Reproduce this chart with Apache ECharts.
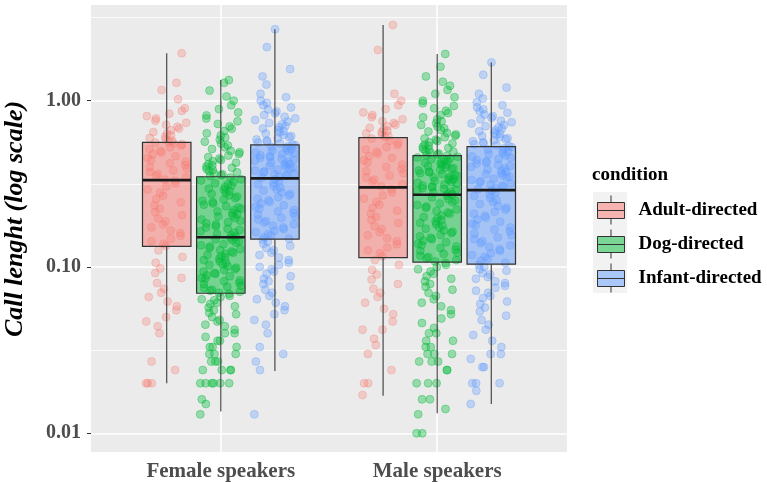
<!DOCTYPE html>
<html>
<head>
<meta charset="utf-8">
<script src="https://cdn.jsdelivr.net/npm/echarts@6/dist/echarts.min.js"></script>
<style>
html,body{margin:0;padding:0;background:#fff;}
#chart{width:767px;height:482px;}
</style>
</head>
<body>
<div id="chart"></div>
<script>
// ---------- data ----------
const categories = ['Female speakers', 'Male speakers'];
const conditions = ['Adult-directed', 'Dog-directed', 'Infant-directed'];
const yTickValues = [0.01, 0.1, 1];
const yTickLabels = ['0.01', '0.10', '1.00'];
const yMinorValues = [0.0316, 0.316, 3.16];

// box statistics per category: [lower whisker, Q1, median, Q3, upper whisker] (seconds)
const adultBoxes  = [[0.020, 0.133, 0.333, 0.562, 1.93], [0.0168, 0.114, 0.301, 0.600, 2.85]];
const dogBoxes    = [[0.0135, 0.0695, 0.151, 0.349, 1.33], [0.0132, 0.107, 0.272, 0.467, 1.91]];
const infantBoxes = [[0.0237, 0.147, 0.341, 0.542, 2.69], [0.0150, 0.104, 0.290, 0.529, 1.70]];

// individual calls (milliseconds), estimated from the jittered points
const femaleAdultMs = [20,20,20,24,27,40,44,47,50,55,58,62,66,70,74,80,86,92,98,106,115,126,
134,138,143,148,154,160,166,173,180,188,196,205,214,224,234,245,256,268,280,292,305,318,330,
336,345,354,363,372,381,390,400,410,420,430,440,452,464,476,488,500,512,524,536,548,555,560,
566,575,585,596,608,620,634,648,664,680,698,716,736,758,782,808,836,868,900,1020,1160,1280,1930];
const femaleDogMs = [13,15,16,20,20,20,20,20,20,24,24,24,24,27,27,27,30,30,30,33,33,33,36,36,38,40,40,42,44,45,47,48,50,52,53,55,57,58,60,61,63,64,66,67,69,
70,71,72,73,75,76,77,79,80,82,83,85,86,88,89,91,92,94,96,97,99,101,103,104,106,108,110,112,114,116,118,120,122,124,126,128,130,133,135,137,140,142,145,147,150,
152,155,158,161,164,167,170,173,176,180,183,186,190,193,197,201,204,208,212,216,220,224,228,232,237,241,246,250,255,260,265,270,275,280,285,291,296,302,307,313,319,325,331,337,345,
352,356,361,366,371,377,383,389,395,402,409,416,424,432,440,449,458,468,478,489,500,512,525,538,552,567,583,600,618,637,657,678,700,725,752,782,815,850,890,940,1000,1060,1150,1280,1330];
const femaleInfantMs = [13,24,27,30,33,40,45,48,52,55,58,61,64,67,70,73,76,79,82,85,88,91,94,97,100,103,106,110,114,118,122,126,130,134,138,142,146,
148,151,155,158,162,165,169,173,177,181,185,189,193,197,202,206,211,216,220,225,230,235,241,246,252,257,263,269,275,281,288,294,301,307,314,321,329,336,
344,348,353,357,362,366,371,375,380,385,390,395,400,405,410,415,420,425,431,436,442,447,453,458,464,470,476,482,488,494,500,507,513,520,526,533,540,
545,552,560,568,576,585,594,603,613,623,634,645,656,668,680,693,706,720,735,750,766,783,800,820,840,862,885,910,940,970,1000,1050,1100,1250,1400,1550,2100,2690];
const maleAdultMs = [17,20,20,24,30,34,37,42,42,47,52,56,61,66,70,74,79,84,90,96,103,110,
116,121,126,131,137,143,149,155,162,169,176,184,192,200,209,218,227,237,247,258,269,281,293,
306,315,325,335,345,355,366,377,389,400,413,425,438,452,465,480,494,509,525,541,557,574,592,
606,615,625,636,648,660,673,687,702,718,735,753,773,795,820,850,890,940,1000,1100,2020,2850];
const maleDogMs = [10,10,13,14,16,16,20,20,20,24,24,27,27,27,30,30,30,33,33,36,36,40,40,43,46,49,52,55,58,61,64,67,70,73,76,79,82,85,88,91,94,97,100,103,106,
108,110,113,115,117,120,122,125,127,130,133,135,138,141,144,147,150,153,156,160,163,166,170,173,177,181,184,188,192,196,200,204,209,213,217,222,227,231,236,241,246,251,256,262,268,
274,277,281,284,288,291,295,298,302,305,309,313,317,321,325,329,333,337,341,345,349,353,357,362,366,371,375,380,384,389,394,398,403,408,413,418,423,428,433,439,444,449,455,460,465,
470,475,481,487,493,499,506,513,520,528,536,544,553,562,572,582,592,603,615,627,640,653,667,682,698,715,733,752,772,794,818,843,870,900,930,965,1000,1050,1100,1160,1230,1300,1400,1600,1910];
const maleInfantMs = [15,18,20,20,20,25,25,28,30,30,33,36,39,42,45,48,51,54,57,60,62,65,67,70,72,75,77,80,82,85,87,90,92,95,97,100,103,
106,109,112,115,118,121,125,128,132,135,139,143,147,151,155,159,164,168,173,178,182,187,193,198,203,209,215,221,227,233,239,246,253,260,267,274,281,288,
293,298,303,308,313,318,323,328,334,339,345,350,356,362,368,374,380,386,392,399,405,412,419,425,432,440,447,454,462,469,477,485,493,501,509,518,526,
533,540,547,554,562,570,578,586,595,604,613,623,633,643,654,665,677,689,702,715,729,743,758,774,790,808,826,846,866,888,912,940,980,1030,1100,1200,1430,1700];

// ---------- presentation ----------
const COLORS = ['#F8766D', '#00BA38', '#619CFF'];
const FILLS = ['rgba(248,118,109,0.5)', 'rgba(0,186,56,0.5)', 'rgba(97,156,255,0.5)'];
const POINT_OPACITY = [0.28, 0.36, 0.32];
const DODGE = [-0.25, 0, 0.25];
const BOX_W = 0.224;
const JITTER = 0.19;
const SERIF = '"Liberation Serif", "Times New Roman", serif';
const log10 = v => Math.log10(v);

// deterministic horizontal spread (layout only; values come from the arrays above)
function spread(i) {
  return ((i * i * 0.3819660113 + i * 0.7548776662) % 1) - 0.5;
}
function jittered(msList, center) {
  return msList.map((ms, i) => [center + spread(i) * JITTER, log10(ms / 1000)]);
}

function pointSeries(ci, femaleMs, maleMs) {
  return {
    type: 'scatter', name: conditions[ci], z: 2, silent: true,
    symbol: 'circle', symbolSize: 8,
    itemStyle: { color: COLORS[ci], borderColor: COLORS[ci], borderWidth: 1, opacity: POINT_OPACITY[ci] },
    data: jittered(femaleMs, 1 + DODGE[ci]).concat(jittered(maleMs, 2 + DODGE[ci]))
  };
}

function boxSeries(ci, boxes) {
  return {
    type: 'custom', name: conditions[ci], z: 3, silent: true,
    encode: { x: 0, y: [1, 2, 3, 4, 5] },
    data: boxes.map((b, i) => [i + 1 + DODGE[ci]].concat(b.map(log10))),
    renderItem(params, api) {
      const x = api.value(0);
      const half = api.size([BOX_W, 0])[0] / 2;
      const pMin = api.coord([x, api.value(1)]);
      const pQ1 = api.coord([x, api.value(2)]);
      const pMed = api.coord([x, api.value(3)]);
      const pQ3 = api.coord([x, api.value(4)]);
      const pMax = api.coord([x, api.value(5)]);
      const cx = pMed[0];
      return {
        type: 'group',
        children: [
          { type: 'line', shape: { x1: cx, y1: pMax[1], x2: cx, y2: pQ3[1] }, style: { stroke: '#3a3a3a', lineWidth: 1.1 } },
          { type: 'line', shape: { x1: cx, y1: pQ1[1], x2: cx, y2: pMin[1] }, style: { stroke: '#3a3a3a', lineWidth: 1.1 } },
          { type: 'rect', shape: { x: cx - half, y: pQ3[1], width: half * 2, height: pQ1[1] - pQ3[1] },
            style: { fill: FILLS[ci], stroke: '#333', lineWidth: 1.2 } },
          { type: 'line', shape: { x1: cx - half, y1: pMed[1], x2: cx + half, y2: pMed[1] },
            style: { stroke: '#1a1a1a', lineWidth: 2.6 } }
        ]
      };
    }
  };
}

const KEY_ICON = 'path://M0,7H27V23H0Z M0,15H27 M13.5,0V7 M13.5,23V29';

const gridSeries = {
  type: 'scatter', name: '_grid', z: 1, silent: true, data: [],
  markLine: {
    z: 1, silent: true, symbol: 'none', animation: false, label: { show: false },
    emphasis: { disabled: true },
    data: [
      ...yTickValues.map(v => ({ yAxis: log10(v), lineStyle: { color: '#ffffff', width: 1.5, type: 'solid' } })),
      ...yMinorValues.map(v => ({ yAxis: log10(v), lineStyle: { color: '#ffffff', width: 0.8, type: 'solid' } })),
      ...categories.map((c, i) => ({ xAxis: i + 1, lineStyle: { color: '#ffffff', width: 1.5, type: 'solid' } }))
    ]
  }
};

const chart = echarts.init(document.getElementById('chart'), null, { renderer: 'canvas' });
chart.setOption({
  animation: false,
  backgroundColor: '#ffffff',
  title: {
    text: 'condition', left: 592, top: 166, padding: 0,
    textStyle: { fontFamily: SERIF, fontWeight: 'bold', fontSize: 19, color: '#000' }
  },
  graphic: [{
    type: 'rect', left: 593, top: 192, z: -1, silent: true,
    shape: { width: 34, height: 101 }, style: { fill: '#f2f2f2' }
  }],
  legend: {
    orient: 'vertical', left: 597, top: 195, padding: 0,
    itemWidth: 27, itemHeight: 29, itemGap: 4, selectedMode: false,
    textStyle: { fontFamily: SERIF, fontWeight: 'bold', fontSize: 19, color: '#000', padding: [0, 0, 0, 9] },
    data: conditions.map((c, i) => ({
      name: c, icon: KEY_ICON,
      itemStyle: { color: FILLS[i], borderColor: '#333', borderWidth: 1, opacity: 1 }
    }))
  },
  grid: {
    left: 91, top: 5, width: 476, height: 447,
    containLabel: false, outerBoundsMode: 'none',
    show: true, backgroundColor: '#EBEBEB', borderWidth: 0
  },
  xAxis: {
    type: 'value', min: 0.4, max: 2.6,
    axisLine: { show: false },
    splitLine: { show: false },
    axisTick: { show: true, customValues: [1, 2], length: 4, lineStyle: { color: '#333' } },
    axisLabel: {
      customValues: [1, 2], margin: 9,
      formatter: v => categories[Math.round(v) - 1] || '',
      fontFamily: SERIF, fontWeight: 'bold', fontSize: 21, color: '#4d4d4d'
    }
  },
  yAxis: {
    type: 'value', min: -2.1125, max: 0.5755,
    name: 'Call lenght (log scale)', nameLocation: 'middle', nameGap: 63, nameRotate: 90,
    nameTextStyle: { fontFamily: SERIF, fontStyle: 'italic', fontWeight: 'bold', fontSize: 26, color: '#000', padding: [0, 0, 0, 19] },
    axisLine: { show: false },
    splitLine: { show: false },
    axisTick: { show: true, customValues: yTickValues.map(log10), length: 4, lineStyle: { color: '#333' } },
    axisLabel: {
      customValues: yTickValues.map(log10), margin: 10,
      formatter: v => yTickLabels[yTickValues.findIndex(t => Math.abs(log10(t) - v) < 1e-6)] || '',
      fontFamily: SERIF, fontWeight: 'bold', fontSize: 20, color: '#4d4d4d'
    }
  },
  series: [
    gridSeries,
    pointSeries(0, femaleAdultMs, maleAdultMs),
    pointSeries(1, femaleDogMs, maleDogMs),
    pointSeries(2, femaleInfantMs, maleInfantMs),
    boxSeries(0, adultBoxes),
    boxSeries(1, dogBoxes),
    boxSeries(2, infantBoxes)
  ]
});
</script>
</body>
</html>
